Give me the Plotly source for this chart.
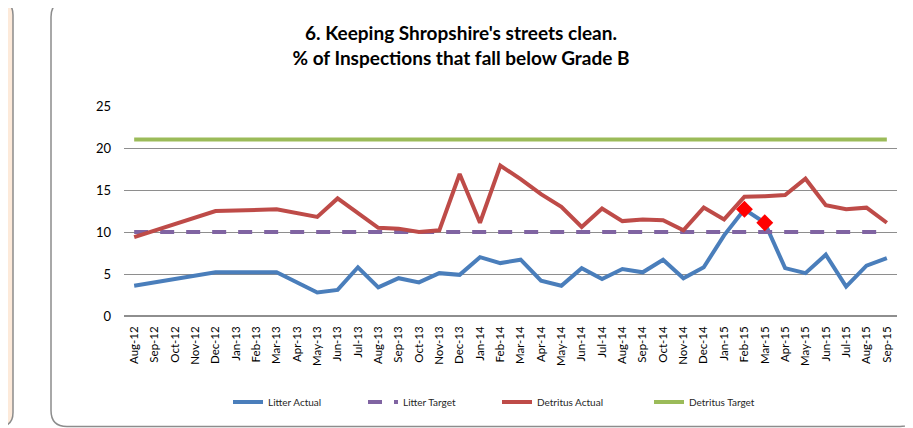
import plotly.graph_objects as go

months = ["Aug-12", "Sep-12", "Oct-12", "Nov-12", "Dec-12", "Jan-13", "Feb-13", "Mar-13",
          "Apr-13", "May-13", "Jun-13", "Jul-13", "Aug-13", "Sep-13", "Oct-13", "Nov-13",
          "Dec-13", "Jan-14", "Feb-14", "Mar-14", "Apr-14", "May-14", "Jun-14", "Jul-14",
          "Aug-14", "Sep-14", "Oct-14", "Nov-14", "Dec-14", "Jan-15", "Feb-15", "Mar-15",
          "Apr-15", "May-15", "Jun-15", "Jul-15", "Aug-15", "Sep-15"]

litter_actual = [3.6, None, None, None, 5.2, None, None, 5.2,
                 None, 2.8, 3.1, 5.8, 3.4, 4.5, 4.0, 5.1,
                 4.9, 7.0, 6.3, 6.7, 4.2, 3.6, 5.7, 4.4,
                 5.6, 5.2, 6.7, 4.5, 5.8, 9.6, 12.7, 11.1,
                 5.7, 5.1, 7.3, 3.5, 6.0, 6.9]

detritus_actual = [9.4, None, None, None, 12.5, None, None, 12.7,
                   None, 11.8, 14.0, 12.2, 10.5, 10.4, 10.0, 10.2,
                   16.9, 11.1, 17.9, 16.3, 14.5, 13.0, 10.6, 12.8,
                   11.3, 11.5, 11.4, 10.2, 12.9, 11.5, 14.2, 14.25,
                   14.4, 16.35, 13.2, 12.7, 12.9, 11.1]

litter_target = [10] * len(months)
detritus_target = [21] * len(months)

highlight_months = ["Feb-15", "Mar-15"]
highlight_values = [12.7, 11.1]

# The page body adds an 8px margin; lay out in screen pixels and shift.
OFF = 8
W, H = 913 - OFF, 428 - OFF
# plot area in screen pixels: x 124..897, y 106..316
ML, MR, MT, MB = 124 - OFF, 913 - 897, 106 - OFF, 428 - 316
PW, PH = W - ML - MR, H - MT - MB


def px(x):
    return (x - OFF - ML) / PW


def py(y):
    return (H - MB - (y - OFF)) / PH


def rounded(x0, y0, x1, y1, r):
    rx, ry = r / PW, r / PH
    X0, X1 = px(x0), px(x1)
    Y0, Y1 = py(y0), py(y1)
    return (f"M{X0+rx},{Y0} L{X1-rx},{Y0} Q{X1},{Y0} {X1},{Y0-ry} "
            f"L{X1},{Y1+ry} Q{X1},{Y1} {X1-rx},{Y1} "
            f"L{X0+rx},{Y1} Q{X0},{Y1} {X0},{Y1+ry} "
            f"L{X0},{Y0-ry} Q{X0},{Y0} {X0+rx},{Y0} Z")


fig = go.Figure()
fig.add_trace(go.Scatter(x=months, y=litter_actual, name="Litter Actual", mode="lines",
                         connectgaps=True, line=dict(color="#4A7EBB", width=4), legend="legend"))
fig.add_trace(go.Scatter(x=months, y=litter_target, name="Litter Target", mode="lines",
                         line=dict(color="#8064A2", width=4, dash="14px,12px"), legend="legend2"))
fig.add_trace(go.Scatter(x=months, y=detritus_actual, name="Detritus Actual", mode="lines",
                         connectgaps=True, line=dict(color="#BE4B48", width=4), legend="legend3"))
fig.add_trace(go.Scatter(x=months, y=detritus_target, name="Detritus Target", mode="lines",
                         line=dict(color="#9BBB59", width=4), legend="legend4"))
fig.add_trace(go.Scatter(x=highlight_months, y=highlight_values, mode="markers", showlegend=False,
                         marker=dict(symbol="diamond", size=13, color="#FF0000")))

shapes = [
    dict(type="path", xref="paper", yref="paper", layer="below",
         path=rounded(-12, 1, 13, 426.5, 14), fillcolor="#FDEADA",
         line=dict(color="#8C8C8C", width=1.5)),
    dict(type="path", xref="paper", yref="paper", layer="below",
         path=rounded(51, 1, 916, 426.5, 16), fillcolor="rgba(0,0,0,0)",
         line=dict(color="#8C8C8C", width=1.5)),
]

leg_y = py(402)
legfont = dict(family="Lato", size=10, color="#262626")


def leg(xpix):
    return dict(x=px(xpix), y=leg_y, xanchor="left", yanchor="middle", orientation="h",
                bgcolor="rgba(0,0,0,0)", font=legfont, borderwidth=0)


fig.update_layout(
    width=W, height=H,
    margin=dict(l=ML, r=MR, t=MT, b=MB),
    paper_bgcolor="white", plot_bgcolor="rgba(0,0,0,0)",
    title=dict(text="<b>6. Keeping Shropshire's streets clean.<br>% of Inspections that fall below Grade B</b>",
               x=px(461), xref="paper", xanchor="center",
               y=1 - (40 - OFF) / H, yref="container", yanchor="middle",
               font=dict(family="Lato", size=19, color="#000000")),
    xaxis=dict(type="category", categoryorder="array", categoryarray=months,
               range=[-0.5, len(months) - 0.5], tickangle=-90, showgrid=False,
               showline=False, ticks="", zeroline=False, ticklabelstandoff=7,
               tickfont=dict(family="Lato", size=11.5, color="#000000")),
    yaxis=dict(range=[0, 25], dtick=5, showgrid=True, gridcolor="#8E8E8E", gridwidth=1,
               zeroline=True, zerolinecolor="#8E8E8E", zerolinewidth=2, ticks="",
               showline=False, ticklabelstandoff=12,
               tickfont=dict(family="Lato", size=13, color="#000000")),
    shapes=shapes,
    legend=leg(228), legend2=leg(363), legend3=leg(497), legend4=leg(649),
)

fig.write_html("out.html")
